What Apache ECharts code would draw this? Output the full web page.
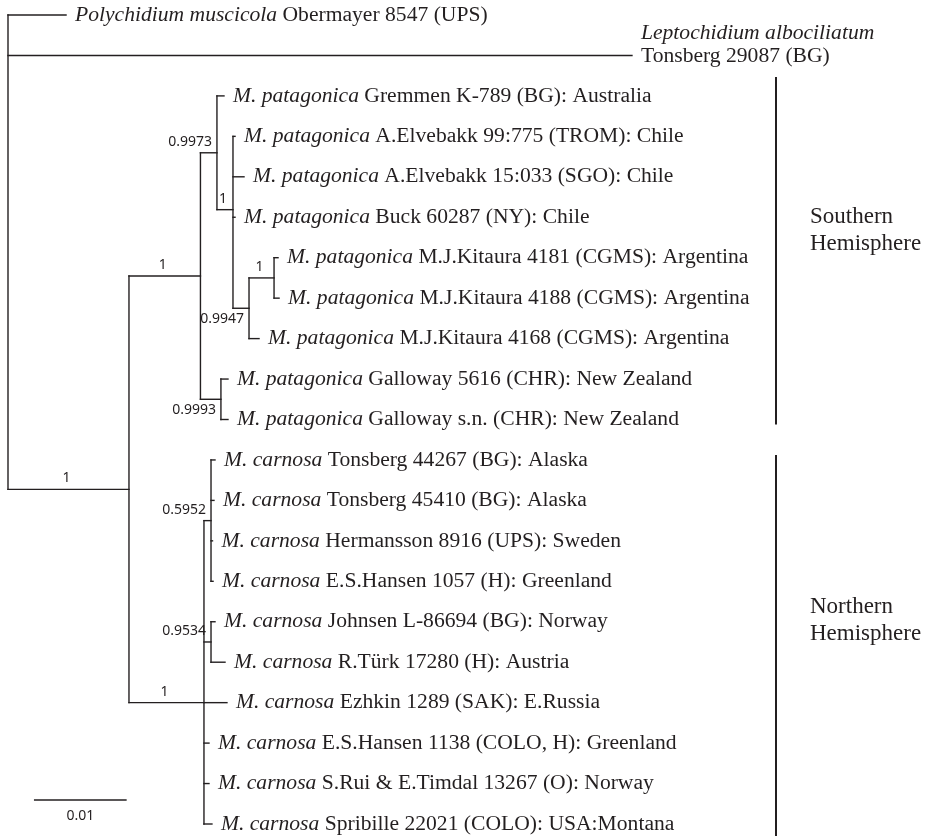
<!DOCTYPE html>
<html>
<head>
<meta charset="utf-8">
<script src="https://cdn.jsdelivr.net/npm/echarts@6/dist/echarts.min.js"></script>
<style>
  html, body { margin: 0; padding: 0; background: #fff; }
  #main { width: 928px; height: 836px; }
</style>
</head>
<body>
<div id="main"></div>
<script>
// tree: every node with its parent and branch length (substitutions / site)
const nodeIds = ['root', 'poly', 'lepto', 'ingroup',
  'patag', 'p9973', 'Gremmen', 'pChile', 'Elv99', 'Elv15', 'Buck', 'p9947', 'pArg', 'K4181', 'K4188', 'K4168',
  'p9993', 'G5616', 'Gsn',
  'carn', 'c5952', 'T44267', 'T45410', 'Herm', 'H1057', 'c9534', 'Johnsen', 'Turk', 'Ezhkin', 'H1138', 'Rui', 'Spri'];
const nodeParents = [null, 'root', 'root', 'root',
  'ingroup', 'patag', 'p9973', 'p9973', 'pChile', 'pChile', 'pChile', 'pChile', 'p9947', 'pArg', 'pArg', 'p9947',
  'patag', 'p9993', 'p9993',
  'ingroup', 'carn', 'c5952', 'c5952', 'c5952', 'c5952', 'carn', 'c9534', 'c9534', 'carn', 'carn', 'carn', 'carn'];
const branchLengths = [0, 0.00626, 0.06731, 0.01305,
  0.00771, 0.00178, 0.00076, 0.00173, 0.00022, 0.00119, 0.00022, 0.00173, 0.00270, 0.00043, 0.00054, 0.00108,
  0.00221, 0.00076, 0.00076,
  0.00809, 0.00076, 0.00043, 0.00032, 0.00016, 0.00022, 0.00076, 0.00043, 0.00151, 0.00248, 0.00054, 0.00054, 0.00086];

// tip labels
const tipIds = ['poly', 'lepto', 'Gremmen', 'Elv99', 'Elv15', 'Buck', 'K4181', 'K4188', 'K4168', 'G5616', 'Gsn',
  'T44267', 'T45410', 'Herm', 'H1057', 'Johnsen', 'Turk', 'Ezhkin', 'H1138', 'Rui', 'Spri'];
const tipTaxa = ['Polychidium muscicola', 'Leptochidium albociliatum',
  'M. patagonica', 'M. patagonica', 'M. patagonica', 'M. patagonica', 'M. patagonica',
  'M. patagonica', 'M. patagonica', 'M. patagonica', 'M. patagonica',
  'M. carnosa', 'M. carnosa', 'M. carnosa', 'M. carnosa', 'M. carnosa',
  'M. carnosa', 'M. carnosa', 'M. carnosa', 'M. carnosa', 'M. carnosa'];
const tipVouchers = ['Obermayer 8547 (UPS)', 'Tonsberg 29087 (BG)',
  'Gremmen K-789 (BG): Australia', 'A.Elvebakk 99:775 (TROM): Chile', 'A.Elvebakk 15:033 (SGO): Chile',
  'Buck 60287 (NY): Chile', 'M.J.Kitaura 4181 (CGMS): Argentina', 'M.J.Kitaura 4188 (CGMS): Argentina',
  'M.J.Kitaura 4168 (CGMS): Argentina', 'Galloway 5616 (CHR): New Zealand', 'Galloway s.n. (CHR): New Zealand',
  'Tonsberg 44267 (BG): Alaska', 'Tonsberg 45410 (BG): Alaska', 'Hermansson 8916 (UPS): Sweden',
  'E.S.Hansen 1057 (H): Greenland', 'Johnsen L-86694 (BG): Norway', 'R.Türk 17280 (H): Austria',
  'Ezhkin 1289 (SAK): E.Russia', 'E.S.Hansen 1138 (COLO, H): Greenland', 'S.Rui & E.Timdal 13267 (O): Norway',
  'Spribille 22021 (COLO): USA:Montana'];

// posterior probabilities
const supportNodes = ['ingroup', 'patag', 'p9973', 'pChile', 'p9947', 'pArg', 'p9993', 'carn', 'c5952', 'c9534'];
const supportValues = [1, 1, 0.9973, 1, 0.9947, 1, 0.9993, 1, 0.5952, 0.9534];

// clade bars
const cladeNames = ['Southern\nHemisphere', 'Northern\nHemisphere'];
const cladeFirstTip = ['Gremmen', 'T44267'];
const cladeLastTip = ['Gsn', 'Spri'];

const scaleBarLength = 0.01;

// layout bits (pixels)
const INK = '#231f20';
const wrappedTips = new Set(['lepto']);
const supportBelow = new Set(['p9947', 'p9993']);
const cladeBarX = 776;
const cladeBarPad = [[-19, 5], [-5, 12]];
const cladeLabelShift = [-20, -25];
const scaleBarStart = 0.0028;
const scaleBarY = 800;

// ---- build depth / rank of every node ----
const children = {};
nodeIds.forEach((id, i) => {
  const p = nodeParents[i];
  if (p) (children[p] = children[p] || []).push(id);
});
const lenOf = {};
nodeIds.forEach((id, i) => { lenOf[id] = branchLengths[i]; });
const depth = {}, rank = {};
let leafCount = 0;
function walk(id, d) {
  depth[id] = d + lenOf[id];
  const kids = children[id] || [];
  if (!kids.length) { rank[id] = leafCount++; return; }
  kids.forEach(k => walk(k, depth[id]));
  rank[id] = kids.reduce((s, k) => s + rank[k], 0) / kids.length;
}
walk('root', 0);

const branchData = nodeIds.map((id, i) => {
  const p = nodeParents[i];
  const kids = children[id] || [];
  const ys = kids.map(k => rank[k]);
  return [p ? depth[p] : depth[id], depth[id], rank[id],
    ys.length ? Math.min(...ys) : rank[id], ys.length ? Math.max(...ys) : rank[id]];
});
const tipData = tipIds.map((id, i) => [depth[id], rank[id], i]);
const supportData = supportNodes.map((id, i) => {
  const p = nodeParents[nodeIds.indexOf(id)];
  return [depth[id], rank[id], depth[p], i];
});
const cladeData = cladeNames.map((n, i) => [rank[cladeFirstTip[i]], rank[cladeLastTip[i]], i]);

const serif = 'Liberation Serif';
const sans = 'Noto Sans';
const tipSize = 21.6;
const lineStyle = { stroke: INK, lineWidth: 1.4, lineCap: 'square' };

const chart = echarts.init(document.getElementById('main'));
const option = {
  animation: false,
  backgroundColor: '#fff',
  grid: { left: 8, top: 15, width: 834.3, height: 809 },
  xAxis: { type: 'value', min: 0, max: 0.09, show: false },
  yAxis: { type: 'value', min: 0, max: 20, inverse: true, show: false },
  series: [
    {
      type: 'custom',
      name: 'branches',
      clip: false,
      data: branchData,
      renderItem: (params, api) => {
        const a = api.coord([api.value(0), api.value(2)]);
        const b = api.coord([api.value(1), api.value(2)]);
        const t = api.coord([api.value(1), api.value(3)]);
        const u = api.coord([api.value(1), api.value(4)]);
        const els = [];
        if (b[0] - a[0] > 0.1) {
          els.push({ type: 'line', shape: { x1: a[0], y1: a[1], x2: b[0], y2: b[1] }, style: lineStyle });
        }
        if (u[1] - t[1] > 0.1) {
          els.push({ type: 'line', shape: { x1: t[0], y1: t[1], x2: u[0], y2: u[1] }, style: lineStyle });
        }
        return { type: 'group', children: els };
      }
    },
    {
      type: 'custom',
      name: 'tips',
      clip: false,
      data: tipData,
      renderItem: (params, api) => {
        const i = api.value(2);
        const pt = api.coord([api.value(0), api.value(1)]);
        const wrap = wrappedTips.has(tipIds[i]);
        const text = '{i|' + tipTaxa[i] + '}' + (wrap ? '\n' : ' ') + '{r|' + tipVouchers[i] + '}';
        return {
          type: 'text',
          x: pt[0] + 9,
          y: wrap ? pt[1] + 12 : pt[1],
          style: {
            text: text,
            align: 'left',
            verticalAlign: wrap ? 'bottom' : 'middle',
            fill: INK,
            fontFamily: serif,
            fontSize: tipSize,
            rich: {
              i: { fontStyle: 'italic', fontFamily: serif, fontSize: tipSize, fill: INK, lineHeight: 23 },
              r: { fontFamily: serif, fontSize: tipSize, fill: INK, lineHeight: 23 }
            }
          }
        };
      }
    },
    {
      type: 'custom',
      name: 'support',
      clip: false,
      data: supportData,
      renderItem: (params, api) => {
        const i = api.value(3);
        const c = api.coord([api.value(0), api.value(1)]);
        const p = api.coord([api.value(2), api.value(1)]);
        const v = supportValues[i];
        const below = supportBelow.has(supportNodes[i]);
        const centred = v === 1;
        return {
          type: 'text',
          x: centred ? (c[0] + p[0]) / 2 - 2 : c[0] - 5,
          y: below ? c[1] + 11 : c[1] - 11,
          style: {
            text: String(v),
            align: centred ? 'center' : 'right',
            verticalAlign: 'middle',
            fill: INK,
            fontFamily: sans,
            fontSize: 14
          }
        };
      }
    },
    {
      type: 'custom',
      name: 'clades',
      clip: false,
      data: cladeData,
      renderItem: (params, api) => {
        const i = api.value(2);
        const top = api.coord([0, api.value(0)])[1] + cladeBarPad[i][0];
        const bot = api.coord([0, api.value(1)])[1] + cladeBarPad[i][1];
        return {
          type: 'group',
          children: [
            { type: 'line', shape: { x1: cladeBarX, y1: top, x2: cladeBarX, y2: bot },
              style: { stroke: INK, lineWidth: 2 } },
            { type: 'text', x: cladeBarX + 34, y: (top + bot) / 2 + cladeLabelShift[i],
              style: { text: cladeNames[i], align: 'left', verticalAlign: 'middle', fill: INK,
                fontFamily: serif, fontSize: 23, lineHeight: 27 } }
          ]
        };
      }
    },
    {
      type: 'custom',
      name: 'scale',
      clip: false,
      data: [[scaleBarStart, scaleBarStart + scaleBarLength]],
      renderItem: (params, api) => {
        const a = api.coord([api.value(0), 0]);
        const b = api.coord([api.value(1), 0]);
        return {
          type: 'group',
          children: [
            { type: 'line', shape: { x1: a[0], y1: scaleBarY, x2: b[0], y2: scaleBarY },
              style: { stroke: INK, lineWidth: 1.4 } },
            { type: 'text', x: (a[0] + b[0]) / 2, y: scaleBarY + 16,
              style: { text: String(scaleBarLength), align: 'center', verticalAlign: 'middle',
                fill: INK, fontFamily: sans, fontSize: 14 } }
          ]
        };
      }
    }
  ]
};
chart.setOption(option);
</script>
</body>
</html>
